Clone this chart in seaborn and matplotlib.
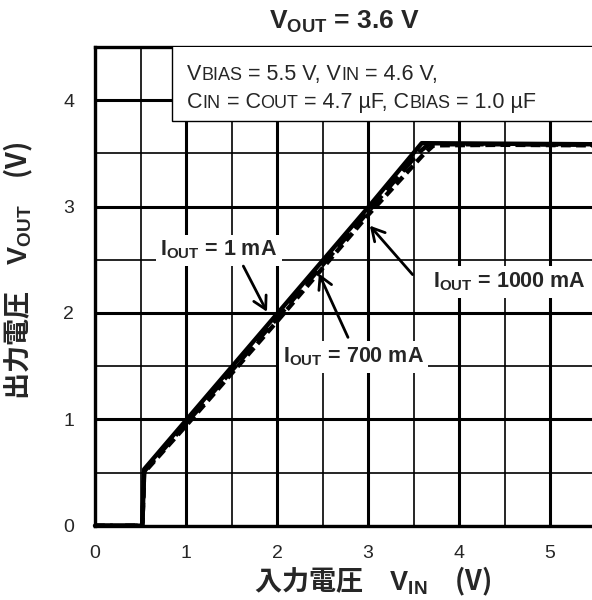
import matplotlib
matplotlib.use("Agg")
import matplotlib.pyplot as plt
import pandas as pd
import seaborn as sns
from matplotlib.patches import Rectangle
from matplotlib.ticker import MultipleLocator

# Output voltage vs. input voltage for three load currents (V)
vin_1ma = [0.0, 0.52, 0.54, 1.0, 2.0, 3.0, 3.59, 4.5, 5.5, 6.0]
vout_1ma = [0.0, 0.0, 0.53, 0.99, 1.99, 2.99, 3.595, 3.59, 3.585, 3.58]
vin_700ma = [0.0, 0.52, 0.54, 1.0, 2.0, 3.0, 3.56, 3.67, 4.5, 5.5, 6.0]
vout_700ma = [0.0, 0.0, 0.51, 0.96, 1.95, 2.95, 3.51, 3.585, 3.585, 3.58, 3.58]
vin_1000ma = [0.0, 0.52, 0.54, 1.0, 2.0, 3.0, 3.61, 3.72, 4.5, 5.5, 6.0]
vout_1000ma = [0.0, 0.0, 0.50, 0.94, 1.92, 2.92, 3.49, 3.575, 3.58, 3.575, 3.575]
load_labels = ["1 mA", "700 mA", "1000 mA"]
x_ticks = [0, 1, 2, 3, 4, 5]
y_ticks = [0, 1, 2, 3, 4]

sns.set_style("white")
plt.rcParams["font.family"] = ["Liberation Sans", "Noto Sans CJK JP", "DejaVu Sans"]
plt.rcParams["mathtext.fontset"] = "custom"
plt.rcParams["mathtext.rm"] = "Liberation Sans"
plt.rcParams["mathtext.bf"] = "Liberation Sans:bold"
plt.rcParams["mathtext.it"] = "Liberation Sans:italic"

frames = []
for lab, xs, ys in zip(load_labels, [vin_1ma, vin_700ma, vin_1000ma],
                       [vout_1ma, vout_700ma, vout_1000ma]):
    frames.append(pd.DataFrame({"vin": xs, "vout": ys, "load": lab}))
df = pd.concat(frames, ignore_index=True)

fig = plt.figure(figsize=(5.92, 6.0), dpi=100)
ax = fig.add_axes([95 / 592, 1 - 525.7 / 600, 546 / 592, 478.8 / 600])

styles = {
    "1 mA": dict(linestyle="-"),
    "700 mA": dict(dashes=(4.0, 1.6)),
    "1000 mA": dict(dashes=(2.2, 1.2)),
}
for lab in load_labels:
    sub = df[df["load"] == lab]
    sns.lineplot(data=sub, x="vin", y="vout", ax=ax, color="black", lw=3.2,
                 estimator=None, sort=False, legend=False, zorder=4, clip_on=False,
                 **styles[lab])

ax.set_xlim(0, 6)
ax.set_ylim(0, 4.5)
ax.set_xticks(x_ticks)
ax.set_yticks(y_ticks)
ax.xaxis.set_minor_locator(MultipleLocator(0.5))
ax.yaxis.set_minor_locator(MultipleLocator(0.5))
ax.grid(which="major", color="black", lw=2.2, zorder=1)
ax.grid(which="minor", color="black", lw=1.2, zorder=1)
ax.set_axisbelow(True)
ax.tick_params(which="both", length=0)
ax.tick_params(axis="x", labelsize=14, pad=14)
ax.tick_params(axis="y", labelsize=14, pad=15)
for sp in ax.spines.values():
    sp.set_linewidth(2.4)
    sp.set_color("black")

cjk = ["Noto Sans CJK JP", "Liberation Sans"]
ax.set_xlabel("入力電圧　$\\mathbf{V_{IN}}$　(V)", family=cjk, fontweight="bold", fontsize=19.5)
ax.set_ylabel("出力電圧　$\\mathbf{V_{OUT}}$　(V)", family=cjk, fontweight="bold", fontsize=19.5)
ax.xaxis.set_label_coords(0.509, -0.082)
ax.yaxis.set_label_coords(-0.11, 0.533)

fig.text(344 / 592, 1 - 22 / 600, "$\\mathbf{V_{OUT}}$ = 3.6 V", fontsize=19,
         fontweight="bold", ha="center", va="center")

# Conditions box in the upper right corner
ax.add_patch(Rectangle((0.846, 3.80), 6.0, 1.0, facecolor="white", edgecolor="black",
                       lw=1.0, zorder=6, clip_on=True))


def draw_runs(x, y, runs):
    fig.canvas.draw()
    r = fig.canvas.get_renderer()
    px, py = ax.transData.transform((x, y))
    for s, size in runs:
        dx, dy = ax.transData.inverted().transform((px, py))
        t = ax.text(dx, dy, s, fontsize=size, ha="left", va="baseline", zorder=7)
        px = t.get_window_extent(renderer=r).x1


big, small = 15.5, 13
draw_runs(1.01, 4.19, [("V", big), ("BIAS", small), (" = 5.5 V, V", big),
                       ("IN", small), (" = 4.6 V,", big)])
draw_runs(1.01, 3.93, [("C", big), ("IN", small), (" = C", big), ("OUT", small),
                       (" = 4.7 µF, C", big), ("BIAS", small), (" = 1.0 µF", big)])

# Load current labels with arrows
box = dict(boxstyle="square,pad=0.2", fc="white", ec="none")
label_pos = [(1.36, 2.59), (2.84, 1.585), (4.56, 2.29)]
arrows = [((1.63, 2.44), (1.89, 2.01)),
          ((2.78, 1.77), (2.46, 2.37)),
          ((3.49, 2.36), (3.02, 2.82))]
for lab, (tx, ty), (tail, head) in zip(load_labels, label_pos, arrows):
    ax.text(tx, ty, "$\\mathbf{I_{OUT}}$ = " + lab, fontsize=15.5, fontweight="bold",
            ha="center", va="center", bbox=box, zorder=5)
    ax.annotate("", xy=head, xytext=tail,
                arrowprops=dict(arrowstyle="->,head_length=0.45,head_width=0.25",
                                lw=2.0, color="black", shrinkA=0, shrinkB=0,
                                mutation_scale=20),
                zorder=5)

fig.savefig("out.png", dpi=100)
